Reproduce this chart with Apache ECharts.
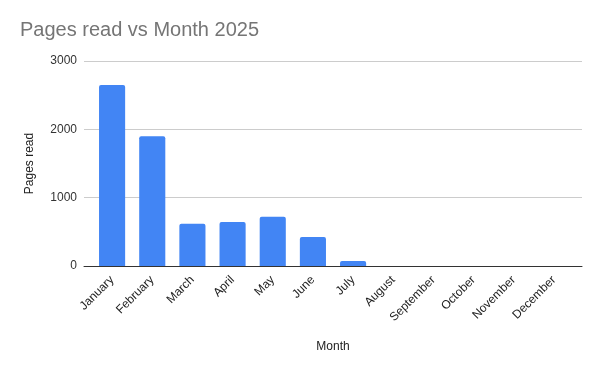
<!DOCTYPE html>
<html><head><meta charset="utf-8">
<script src="https://cdn.jsdelivr.net/npm/echarts@6/dist/echarts.min.js"></script>
<style>html,body{margin:0;padding:0;background:#fff}#c{width:600px;height:371px}</style>
</head><body><div id="c"></div>
<script>
const months = ["January","February","March","April","May","June","July","August","September","October","November","December"];
const pagesRead = [2650, 1900, 620, 645, 720, 425, 75, 0, 0, 0, 0, 0];
const yTicks = [0, 1000, 2000, 3000];

const font = 'Arial, Liberation Sans';
const chart = echarts.init(document.getElementById('c'), null, {renderer:'canvas'});
chart.setOption({
  animation:false,
  backgroundColor:'#fff',
  title:{text:'Pages read vs Month 2025', left:20, top:20, padding:0,
    textStyle:{fontFamily:font, fontSize:20, fontWeight:'normal', color:'#757575'}},
  grid:[
    {left:84, right:18, top:61, bottom:105},
    {left:92, right:26, top:61, bottom:105}
  ],
  xAxis:[
    {gridIndex:0, type:'category', data:months, boundaryGap:true,
      axisLine:{lineStyle:{color:'#333', width:1}}, axisTick:{show:false}, axisLabel:{show:false},
      name:'Month', nameLocation:'middle', nameGap:75,
      nameTextStyle:{fontFamily:font, fontSize:12, color:'#222'}},
    {gridIndex:1, type:'category', data:months,
      axisLine:{show:false}, axisTick:{show:false},
      axisLabel:{rotate:45, interval:0, margin:12, fontFamily:font, fontSize:12, color:'#222'}}
  ],
  yAxis:[
    {gridIndex:0, type:'value', min:yTicks[0], max:yTicks[yTicks.length-1], interval:1000,
      name:'Pages read', nameLocation:'middle', nameGap:48,
      nameTextStyle:{fontFamily:font, fontSize:12, color:'#222'},
      axisLine:{show:false}, axisTick:{show:false},
      axisLabel:{margin:7, formatter:v=>String(v), fontFamily:font, fontSize:12, color:'#333'},
      splitLine:{lineStyle:{color:'#ccc', width:1}}},
    {gridIndex:1, type:'value', min:yTicks[0], max:yTicks[yTicks.length-1], interval:1000,
      show:false, splitLine:{show:false}}
  ],
  series:[{type:'bar', xAxisIndex:1, yAxisIndex:1, data:pagesRead, barWidth:'65%',
    itemStyle:{color:'#4285F4', borderRadius:[2,2,0,0]}}]
});
</script></body></html>
